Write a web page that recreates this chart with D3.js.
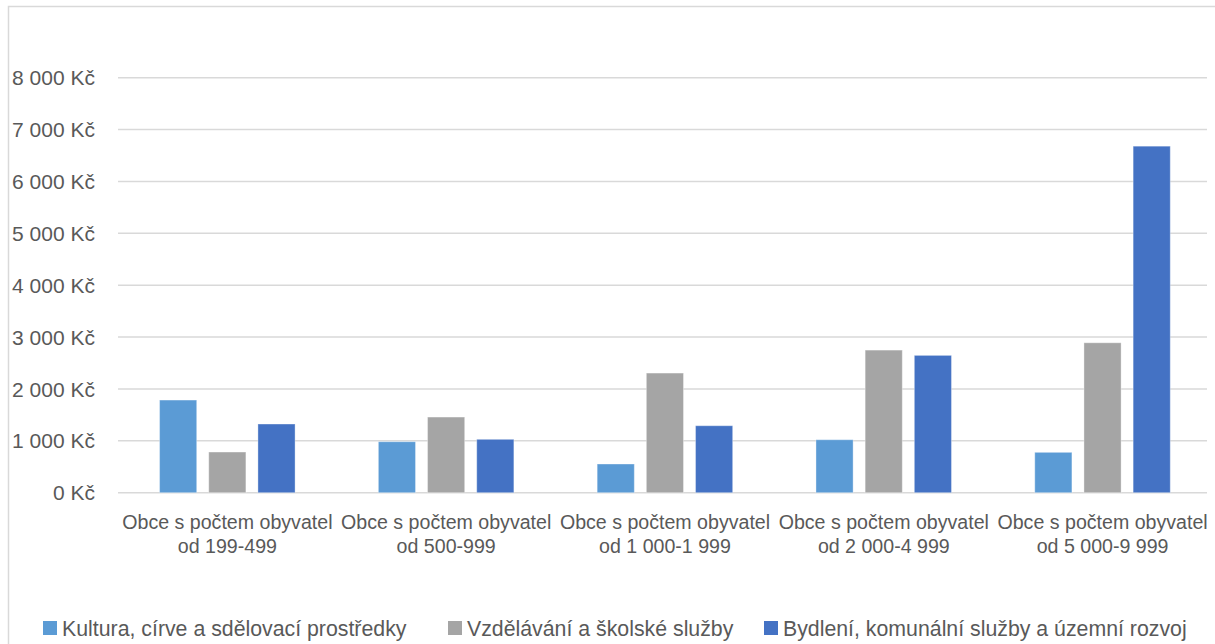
<!DOCTYPE html>
<html>
<head>
<meta charset="utf-8">
<script src="https://cdn.jsdelivr.net/npm/d3@7"></script>
<style>
  html, body { margin: 0; padding: 0; background: #fff; }
  svg { display: block; }
  text { font-family: "Liberation Sans", Arial, sans-serif; fill: #595959; }
</style>
</head>
<body>
<svg id="chart" width="1215" height="644"></svg>
<script>
const categories = [
  ["Obce s počtem obyvatel", "od 199-499"],
  ["Obce s počtem obyvatel", "od 500-999"],
  ["Obce s počtem obyvatel", "od 1 000-1 999"],
  ["Obce s počtem obyvatel", "od 2 000-4 999"],
  ["Obce s počtem obyvatel", "od 5 000-9 999"]
];
const seriesNames = [
  "Kultura, círve a sdělovací prostředky",
  "Vzdělávání a školské služby",
  "Bydlení, komunální služby a územní rozvoj"
];
const kultura = [1786, 983, 553, 1021, 778];
const vzdelavani = [784, 1458, 2306, 2749, 2890];
const bydleni = [1324, 1029, 1291, 2647, 6680];
const yTicks = [0, 1000, 2000, 3000, 4000, 5000, 6000, 7000, 8000];
const colors = ["#5b9bd5", "#a5a5a5", "#4472c4"];

const seriesValues = [kultura, vzdelavani, bydleni];
const svg = d3.select("#chart");

// chart border
svg.append("rect").attr("x", 8.5).attr("y", 6.5).attr("width", 1220).attr("height", 650)
  .attr("fill", "none").attr("stroke", "#d9d9d9").attr("stroke-width", 1.5);

const plotL = 118, plotR = 1212, gridR = 1207, plotT = 77.7, plotB = 492.7;
const catIdx = categories.map((d, i) => i);
const x0 = d3.scaleBand().domain(catIdx).range([plotL, plotR]).paddingInner(0).paddingOuter(0);
const bw = x0.bandwidth();
const x1 = d3.scaleBand().domain([0, 1, 2])
  .range([bw * 0.19, bw * 0.19 + 135 / 218 * bw]).paddingInner(12 / 49).paddingOuter(0);
const y = d3.scaleLinear().domain([0, 8000]).range([plotB, plotT]);

// gridlines
svg.append("g").selectAll("line").data(yTicks).join("line")
  .attr("x1", plotL).attr("x2", gridR)
  .attr("y1", d => y(d)).attr("y2", d => y(d))
  .attr("stroke", "#d9d9d9").attr("stroke-width", 1.5);

// y labels
const fmt = v => d3.format(",")(v).replace(/,/g, "\u00a0") + " Kč";
svg.append("g").selectAll("text").data(yTicks).join("text")
  .attr("x", 95).attr("y", d => y(d)).attr("dy", "0.36em")
  .attr("text-anchor", "end").style("font-size", "21px")
  .text(d => fmt(d));

// bars
const gCats = svg.append("g").selectAll("g").data(catIdx).join("g")
  .attr("transform", i => `translate(${x0(i)},0)`);
gCats.selectAll("rect").data(i => seriesValues.map((s, k) => ({k, v: s[i]}))).join("rect")
  .attr("x", d => x1(d.k)).attr("width", x1.bandwidth())
  .attr("y", d => y(d.v)).attr("height", d => y(0) - y(d.v))
  .attr("fill", d => colors[d.k])
  .attr("stroke", "rgba(255,255,255,0.35)").attr("stroke-width", 1);

// category labels
const gLab = svg.append("g").selectAll("text").data(catIdx).join("text")
  .attr("text-anchor", "middle").style("font-size", "19.6px")
  .attr("x", i => x0(i) + bw / 2);
gLab.each(function(i) {
  const t = d3.select(this);
  t.append("tspan").attr("x", x0(i) + bw / 2).attr("y", 529).text(categories[i][0]);
  t.append("tspan").attr("x", x0(i) + bw / 2).attr("y", 553).text(categories[i][1]);
});

// legend
const legX = [43, 448, 764];
const leg = svg.append("g").selectAll("g").data(seriesNames).join("g")
  .attr("transform", (d, k) => `translate(${legX[k]},621)`);
leg.append("rect").attr("width", 14).attr("height", 14).attr("fill", (d, k) => colors[k]);
leg.append("text").attr("x", 19).attr("y", 7).attr("dy", "0.36em")
  .style("font-size", "21.3px").text(d => d);
</script>
</body>
</html>
